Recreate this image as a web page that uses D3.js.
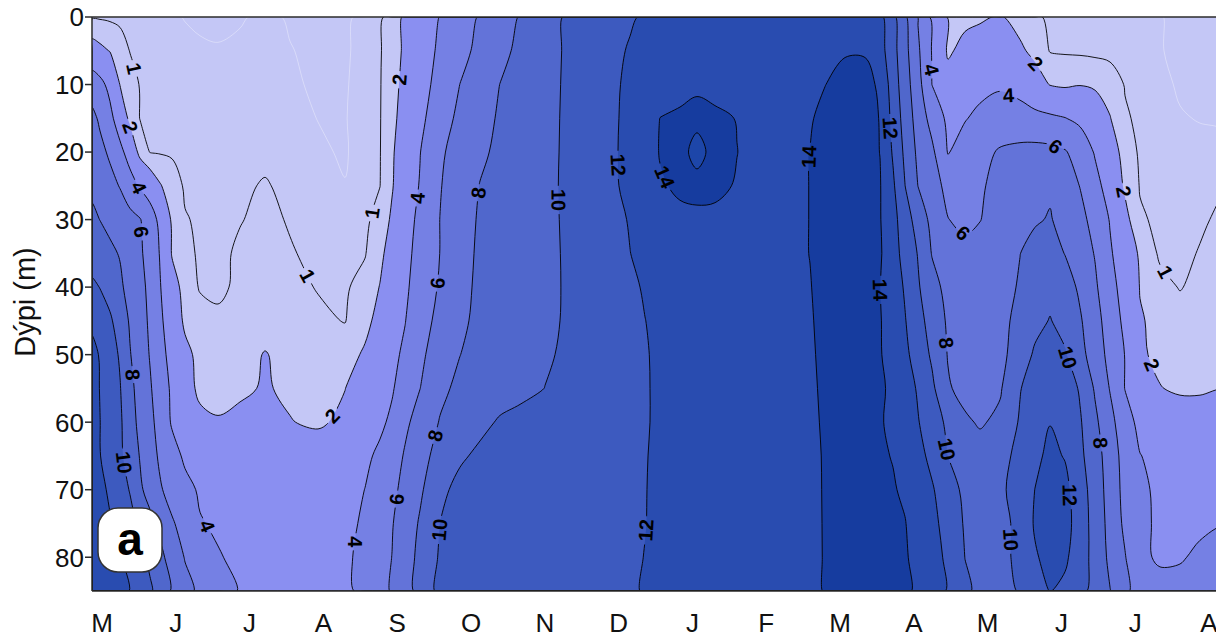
<!DOCTYPE html>
<html>
<head>
<meta charset="utf-8">
<script src="https://cdn.jsdelivr.net/npm/d3@7.9.0/dist/d3.min.js"></script>
<style>
  body { margin: 0; background: #fff; }
  svg { display: block; font-family: "Liberation Sans", Arial, sans-serif; }
</style>
</head>
<body>
<svg id="chart" width="1216" height="637"></svg>
<script>
// Month labels along the bottom (May through August of the next year)
const monthLabels = ['M','J','J','A','S','O','N','D','J','F','M','A','M','J','J','A'];
const depthTicks = [0, 10, 20, 30, 40, 50, 60, 70, 80];

// Grid columns, in months counted from the start of May
const times = [-0.136,-0.027,0.108,0.244,0.379,0.515,0.650,0.786,0.949,1.125,1.328,1.572,1.870,
  2.209,2.547,2.927,3.293,3.564,3.767,3.930,4.106,4.309,4.580,4.851,5.122,5.393,
  5.664,6.003,6.341,6.748,7.154,7.358,7.561,7.832,8.062,8.306,8.604,8.916,9.322,
  9.593,9.797,10.068,10.339,10.542,10.718,10.881,11.057,11.247,11.463,11.694,11.897,12.168,
  12.439,12.642,12.846,13.049,13.252,13.455,13.659,13.862,14.065,14.336,14.607,14.878,15.176];

// Grid rows, depth in metres
const depths = [0,5,10,15,20,25,30,35,40,45,50,55,60,65,70,75,80,85];

// Values, one row per depth
const nitrate = [
 [0.9,0.9,0.85,0.8,0.75,0.7,0.65,0.6,0.55,0.48,0.4,0.35,0.45,
  0.6,0.45,0.35,0.4,0.65,0.85,1.4,2.2,2.9,4.05,5.1,6.15,7.1,
  8.1,9.3,10.3,11.0,11.8,12.2,12.5,12.8,13.0,13.0,13.0,13.0,13.2,
  13.4,13.6,13.8,13.8,12.5,10.5,8.3,5.9,3.6,1.9,1.7,1.85,2.1,
  1.6,1.1,0.9,0.85,0.8,0.75,0.7,0.65,0.6,0.52,0.4,0.35,0.3],
 [2.6,2.3,1.95,1.45,0.97,0.85,0.78,0.72,0.68,0.62,0.58,0.55,0.6,
  0.7,0.52,0.4,0.42,0.7,0.93,1.5,2.2,3.1,4.3,5.4,6.5,7.5,
  8.4,9.4,10.3,11.2,12.15,12.5,12.8,13.0,13.1,13.1,13.0,13.1,13.3,
  13.5,13.7,13.9,13.9,12.8,10.7,8.6,6.3,3.9,1.8,2.4,2.6,2.5,
  2.2,1.7,0.95,0.9,0.85,0.8,0.75,0.68,0.62,0.52,0.42,0.38,0.35],
 [5.0,4.5,3.5,1.97,1.4,0.95,0.85,0.8,0.75,0.7,0.65,0.62,0.65,
  0.7,0.58,0.42,0.45,0.72,0.95,1.6,2.35,3.3,4.6,6.02,7.0,8.02,
  8.7,9.5,10.3,11.35,12.3,12.7,13.0,13.4,13.75,13.5,13.2,13.2,13.5,
  13.8,13.98,14.4,14.4,13.8,11.0,8.9,6.7,3.98,2.6,3.2,3.5,3.8,
  3.4,2.6,1.95,1.8,1.95,1.8,1.5,0.95,0.8,0.6,0.45,0.4,0.38],
 [6.5,5.7,4.5,3.0,1.7,0.97,0.9,0.85,0.8,0.78,0.72,0.7,0.72,
  0.75,0.65,0.49,0.47,0.75,0.96,1.65,2.6,3.6,5.0,6.5,7.4,8.2,
  8.8,9.5,10.35,11.4,12.35,12.9,14.02,14.3,14.45,14.3,13.95,13.4,13.6,
  13.9,14.3,14.5,14.5,13.95,11.4,9.2,7.2,5.3,3.6,3.9,4.4,4.8,
  4.7,4.5,4.3,4.05,3.6,3.0,2.05,1.1,0.85,0.62,0.53,0.48,0.45],
 [7.0,6.5,5.7,4.5,3.2,1.6,0.97,0.93,0.9,0.85,0.8,0.78,0.8,
  0.85,0.72,0.58,0.44,0.78,0.97,1.8,3.0,3.95,5.7,6.8,7.7,8.35,
  8.9,9.55,10.35,11.4,12.4,13.0,14.1,14.4,14.8,14.4,14.02,13.5,13.7,
  14.02,14.4,14.5,14.5,13.98,11.8,9.6,7.6,6.4,3.9,4.8,5.4,6.2,
  6.5,6.6,6.5,6.15,5.2,3.85,2.6,1.6,0.85,0.7,0.65,0.62,0.6],
 [7.7,7.2,6.6,5.9,4.8,3.8,3.0,2.1,1.4,0.9,0.85,0.82,0.9,
  1.05,0.85,0.7,0.52,0.8,0.99,1.9,3.0,4.1,5.9,7.0,8.05,8.6,
  9.0,9.6,10.35,11.4,12.35,12.9,13.8,14.3,14.4,14.3,13.9,13.5,13.7,
  14.02,14.45,14.55,14.55,14.1,12.3,10.02,7.98,6.9,5.4,5.2,5.8,6.5,
  7.2,7.6,7.8,7.0,5.95,4.6,3.2,1.8,0.95,0.85,0.75,0.72,0.92],
 [8.3,7.98,7.6,7.1,6.6,6.1,5.0,3.5,1.8,1.05,0.9,0.85,0.97,
  1.15,0.95,0.8,0.7,0.85,1.3,2.2,3.3,4.4,6.02,7.2,8.2,8.7,
  9.1,9.6,10.3,11.2,12.1,12.6,13.2,13.6,13.7,13.7,13.5,13.4,13.7,
  14.02,14.5,14.55,14.55,14.1,12.6,11.0,9.1,7.5,6.05,5.5,5.95,6.8,
  7.5,7.85,8.1,7.5,6.6,5.3,3.9,2.4,1.1,0.85,0.75,0.88,1.15],
 [9.0,8.7,8.3,7.9,7.1,6.3,5.2,3.9,1.9,1.2,0.9,0.85,1.1,
  1.3,1.05,0.85,0.8,0.95,1.7,2.6,3.5,4.6,6.02,7.3,8.3,8.8,
  9.2,9.6,10.25,11.0,11.98,12.4,12.8,13.1,13.2,13.2,13.2,13.3,13.7,
  14.02,14.5,14.55,14.5,14.2,12.8,11.3,9.9,7.9,7.0,6.6,6.7,7.2,
  7.98,8.5,8.7,7.95,7.0,5.9,4.2,3.0,1.8,0.85,0.8,1.05,1.3],
 [10.4,9.95,9.2,8.3,7.4,6.5,5.6,4.1,2.6,1.55,0.92,0.85,1.15,
  1.4,1.2,0.96,0.9,1.3,2.05,3.0,3.7,4.8,6.2,7.4,8.4,8.9,
  9.25,9.65,10.2,10.9,11.7,12.15,12.5,12.8,12.95,13.0,13.1,13.2,13.6,
  13.95,14.4,14.5,14.4,14.02,13.0,11.8,10.2,8.7,7.4,7.0,7.0,7.4,
  8.15,8.8,9.4,8.8,7.7,6.3,4.6,3.3,1.95,1.3,0.95,1.25,1.45],
 [11.7,11.0,10.3,9.1,7.8,6.8,5.7,4.4,2.8,1.8,1.4,1.15,1.35,
  1.6,1.4,1.15,0.97,1.6,2.5,3.2,3.95,5.1,6.6,7.6,8.5,8.95,
  9.3,9.7,10.2,10.8,11.5,11.98,12.35,12.6,12.8,12.9,13.0,13.1,13.5,
  13.9,14.3,14.45,14.4,14.1,13.2,12.1,10.7,9.2,7.75,7.2,7.1,7.5,
  8.5,9.4,10.1,9.3,8.2,6.8,5.0,3.6,2.1,1.7,1.4,1.5,1.6],
 [12.4,11.9,10.8,9.8,8.1,7.0,5.9,4.7,3.3,2.3,1.7,1.5,1.65,
  2.05,1.7,1.5,1.45,2.2,3.0,3.6,4.3,5.6,7.0,7.98,8.6,9.0,
  9.35,9.8,10.3,10.8,11.45,11.9,12.25,12.5,12.7,12.8,12.9,13.1,13.5,
  13.85,14.25,14.45,14.35,14.1,13.4,12.4,11.2,9.7,7.9,7.2,7.0,7.5,
  8.9,10.3,10.9,10.2,8.6,7.1,5.4,3.95,2.2,1.7,1.6,1.65,1.7],
 [12.6,11.95,11.0,10.1,8.5,7.3,6.2,5.0,3.7,2.5,1.75,1.6,1.8,
  2.1,1.8,1.65,1.98,2.8,3.4,3.85,4.8,5.98,7.6,8.4,8.9,9.2,
  9.55,10.02,10.4,10.8,11.4,11.9,12.2,12.45,12.65,12.75,12.85,13.0,13.4,
  13.8,14.2,14.4,14.35,14.3,13.6,12.9,11.8,10.4,8.2,7.4,7.2,7.8,
  9.9,11.0,11.6,11.1,9.8,7.8,5.9,3.95,3.0,2.05,1.8,1.8,1.95],
 [12.7,12.02,11.1,10.3,8.8,7.5,6.5,5.3,3.8,2.9,2.3,2.1,2.3,
  2.4,2.05,1.8,2.3,3.1,3.7,4.3,5.6,6.8,8.1,8.9,9.5,10.2,
  10.5,10.8,11.0,11.2,11.5,11.9,12.2,12.4,12.6,12.7,12.8,12.95,13.35,
  13.75,14.15,14.35,14.3,14.2,13.5,13.0,12.1,11.0,9.6,8.3,7.8,8.4,
  10.2,11.3,11.95,11.6,10.2,8.4,6.6,4.8,3.5,3.0,2.8,2.8,2.9],
 [12.8,12.05,11.2,10.35,9.2,7.9,6.8,5.7,4.7,3.7,3.2,3.0,2.9,
  2.8,2.7,2.8,3.1,3.7,4.3,5.0,6.2,7.4,8.6,9.7,10.4,10.7,
  10.9,11.1,11.2,11.35,11.6,11.95,12.2,12.4,12.55,12.65,12.75,12.9,13.3,
  13.7,14.1,14.3,14.25,14.15,13.95,13.3,12.6,11.5,9.98,9.0,8.8,9.3,
  10.6,11.6,12.4,11.9,10.4,8.9,7.0,5.3,4.05,3.5,3.3,3.2,3.3],
 [13.2,12.5,11.7,10.8,9.9,8.3,7.3,6.2,5.3,4.5,3.8,3.5,3.3,
  3.15,3.1,3.15,3.4,4.02,4.9,5.6,6.5,7.7,9.5,10.6,10.9,11.0,
  11.1,11.25,11.35,11.5,11.7,11.97,12.2,12.4,12.5,12.6,12.7,12.85,13.25,
  13.65,14.1,14.3,14.3,14.2,14.1,13.8,13.1,12.2,10.8,9.6,9.3,9.6,
  10.9,12.02,12.7,12.5,10.9,9.1,7.2,5.4,4.3,3.7,3.5,3.5,3.6],
 [13.5,12.9,12.15,11.35,10.6,9.6,8.5,7.5,6.2,5.3,4.1,3.8,3.55,
  3.4,3.35,3.4,3.65,4.2,5.2,5.9,6.9,8.2,10.02,10.9,11.1,11.2,
  11.3,11.4,11.5,11.6,11.8,11.98,12.2,12.35,12.45,12.55,12.65,12.8,13.2,
  13.6,14.1,14.3,14.3,14.25,14.15,14.05,13.4,12.5,11.3,9.8,9.4,9.3,
  10.6,12.2,12.9,12.7,11.1,9.2,7.4,5.6,4.4,3.7,3.7,3.8,3.95],
 [13.7,13.2,12.6,12.1,11.3,10.5,9.6,8.5,7.2,5.9,5.0,4.1,3.7,
  3.5,3.45,3.5,3.75,4.4,5.4,6.02,7.1,8.5,10.2,11.0,11.2,11.3,
  11.4,11.5,11.55,11.65,11.85,12.02,12.2,12.35,12.4,12.5,12.6,12.75,13.15,
  13.55,14.1,14.3,14.3,14.25,14.2,14.1,13.7,12.8,11.6,9.98,9.5,9.4,
  10.5,11.8,12.6,12.3,11.0,9.3,7.6,6.1,4.3,3.8,3.9,4.2,4.4],
 [13.9,13.5,13.0,12.6,11.95,11.1,10.3,9.1,7.8,6.6,5.6,4.7,3.9,
  3.6,3.5,3.55,3.8,4.25,5.4,6.15,7.2,8.6,10.5,11.1,11.3,11.4,
  11.5,11.55,11.6,11.7,11.9,12.05,12.2,12.3,12.4,12.5,12.55,12.7,13.1,
  13.5,14.1,14.3,14.3,14.25,14.2,14.15,13.85,13.1,11.8,10.3,9.6,9.5,
  10.1,11.2,12.05,11.6,10.6,9.3,8.05,6.4,5.1,4.5,4.4,4.5,4.6]
];

// Filled bands: below 2 is the background colour
const baseColor = '#c4c7f6';
const fillLevels = [2, 4, 6, 8, 10, 12, 14, 14.6];
const fillColors = ['#8a8ff1', '#7580e4', '#6373d9', '#5067cc', '#3d5abf', '#294cb0', '#163c9f', '#1d46a9'];
// Drawn contour lines
const lineLevels = [1, 2, 4, 6, 8, 10, 12, 14, 14.6];
const faintLevels = [0.5];

// Where the inline contour labels sit: [level, month, depth]
const labelSpots = [
  [1, 0.38, 7.8], [2, 0.35, 16.4], [4, 0.49, 25.3], [6, 0.58, 31.8], [8, 0.38, 53.0],
  [10, 0.33, 65.9], [4, 1.40, 75.5], [1, 2.75, 38.5], [2, 3.18, 59.4], [1, 3.74, 29.3],
  [2, 4.04, 9.3], [4, 4.27, 26.8], [6, 4.54, 39.4], [8, 5.18, 26.1], [8, 4.63, 62.3],
  [6, 4.07, 71.5], [4, 3.54, 77.9], [10, 4.65, 76.0], [10, 6.21, 27.1], [12, 6.98, 21.9],
  [14, 7.52, 24.1], [12, 7.36, 76.0], [14, 9.59, 20.7], [14, 10.54, 40.4], [12, 10.77, 16.4],
  [4, 11.25, 7.8], [6, 11.63, 32.4], [8, 11.38, 48.3], [10, 11.38, 64.1], [10, 12.30, 77.4],
  [12, 13.12, 70.8], [10, 13.12, 50.3], [8, 13.52, 63.1], [2, 12.62, 7.1], [4, 12.28, 11.6],
  [6, 12.95, 18.2], [2, 13.83, 25.9], [1, 14.40, 37.8], [2, 14.16, 51.8]
];

const W = 1216, H = 637;
const pL = 92, pR = 1216, pT = 17, pB = 591;

const x = d3.scaleLinear().domain([0, 15]).range([102, 1209]);
const y = d3.scaleLinear().domain([0, 85]).range([pT, pB]);

const svg = d3.select('#chart');
const defs = svg.append('defs');
defs.append('clipPath').attr('id', 'plot')
  .append('rect').attr('x', pL).attr('y', pT).attr('width', pR - pL).attr('height', pB - pT);

// grid coordinate (value i sits at i + 0.5) -> axis value
function along(arr, u) {
  const k = u - 0.5;
  if (k <= 0) return arr[0];
  if (k >= arr.length - 1) return arr[arr.length - 1];
  const i = Math.floor(k);
  return arr[i] + (arr[i + 1] - arr[i]) * (k - i);
}

const nx = times.length, ny = depths.length;
const values = nitrate.flat();
const contours = d3.contours().size([nx, ny]);

// contour rings in screen pixels
function screenRings(level) {
  const rings = [];
  contours.contour(values, level).coordinates.forEach(poly => poly.forEach(ring => {
    rings.push(ring.map(([u, v]) => [x(along(times, u)), y(along(depths, v))]));
  }));
  return rings;
}
// smooth closed curve through each ring
const ringLine = d3.line().curve(d3.curveCatmullRomClosed.alpha(0.5));
function smoothPath(level) {
  return screenRings(level).map(r => ringLine(r.slice(0, -1))).join('');
}

const plot = svg.append('g').attr('clip-path', 'url(#plot)');

// filled bands
plot.append('rect')
  .attr('x', pL).attr('y', pT).attr('width', pR - pL).attr('height', pB - pT)
  .attr('fill', baseColor);
fillLevels.forEach((lv, i) => {
  plot.append('path')
    .attr('d', smoothPath(lv))
    .attr('fill', fillColors[i])
    .attr('fill-rule', 'evenodd');
});

// contour lines, with gaps cut out where the labels go
const mask = defs.append('mask').attr('id', 'gaps')
  .attr('maskUnits', 'userSpaceOnUse').attr('x', 0).attr('y', 0).attr('width', W).attr('height', H);
mask.append('rect').attr('width', W).attr('height', H).attr('fill', '#fff');

const lines = plot.append('g').attr('mask', 'url(#gaps)');
faintLevels.forEach(lv => {
  lines.append('path')
    .attr('d', smoothPath(lv))
    .attr('fill', 'none')
    .attr('stroke', 'rgba(255,255,255,0.45)')
    .attr('stroke-width', 0.8);
});
lineLevels.forEach(lv => {
  lines.append('path')
    .attr('d', smoothPath(lv))
    .attr('fill', 'none')
    .attr('stroke', '#000')
    .attr('stroke-width', 0.9);
});

// contour labels
const onFrame = p => p[0] <= pL + 0.5 || p[0] >= pR - 0.5 || p[1] <= pT + 0.5 || p[1] >= pB - 0.5;

const labels = plot.append('g')
  .attr('font-size', 20).attr('font-weight', 'bold').attr('fill', '#000');

labelSpots.forEach(([level, t, d]) => {
  const ax = x(t), ay = y(d);
  let best = null;
  screenRings(level).forEach(ring => {
    for (let k = 0; k < ring.length - 1; k++) {
      const p = ring[k], q = ring[k + 1];
      if (onFrame(p) && onFrame(q)) continue;
      const dx = q[0] - p[0], dy = q[1] - p[1];
      const len2 = dx * dx + dy * dy || 1e-9;
      const s = Math.max(0, Math.min(1, ((ax - p[0]) * dx + (ay - p[1]) * dy) / len2));
      const cx = p[0] + s * dx, cy = p[1] + s * dy;
      const dist = Math.hypot(ax - cx, ay - cy);
      if (!best || dist < best.dist) best = { dist, cx, cy, ring, k };
    }
  });
  if (!best) return;
  const r = best.ring;
  const a = r[Math.max(0, best.k - 2)], b = r[Math.min(r.length - 1, best.k + 3)];
  let ang = Math.atan2(b[1] - a[1], b[0] - a[0]) * 180 / Math.PI;
  if (ang > 90) ang -= 180;
  if (ang <= -90) ang += 180;
  const tf = `translate(${best.cx},${best.cy}) rotate(${ang})`;
  const txt = labels.append('text')
    .attr('transform', tf)
    .attr('text-anchor', 'middle')
    .attr('dy', '0.36em')
    .text(level);
  const w = txt.node().getComputedTextLength();
  mask.append('rect')
    .attr('transform', tf)
    .attr('x', -w / 2 - 3).attr('y', -8).attr('width', w + 6).attr('height', 16)
    .attr('fill', '#000');
});

// frame and axes
const frame = svg.append('g').attr('stroke', '#2b2b2b').attr('stroke-width', 1.5);
frame.append('line').attr('x1', pL).attr('x2', pR).attr('y1', pT).attr('y2', pT);
frame.append('line').attr('x1', pL).attr('x2', pR).attr('y1', pB).attr('y2', pB);
frame.append('line').attr('x1', pL).attr('x2', pL).attr('y1', pT).attr('y2', pB);

const yAxis = svg.append('g');
depthTicks.forEach(d => {
  yAxis.append('line')
    .attr('x1', pL - 7).attr('x2', pL).attr('y1', y(d)).attr('y2', y(d))
    .attr('stroke', '#2b2b2b').attr('stroke-width', 1.5);
  yAxis.append('text')
    .attr('x', pL - 8).attr('y', y(d)).attr('dy', '0.36em')
    .attr('text-anchor', 'end').attr('font-size', 26).attr('fill', '#111')
    .text(d);
});

svg.append('text')
  .attr('transform', 'translate(35,302) rotate(-90)')
  .attr('text-anchor', 'middle').attr('font-size', 29).attr('fill', '#111')
  .text('Dýpi (m)');

svg.append('g').selectAll('text')
  .data(monthLabels)
  .join('text')
  .attr('x', (m, i) => x(i)).attr('y', 632)
  .attr('text-anchor', 'middle').attr('font-size', 26).attr('fill', '#111')
  .text(m => m);

// panel letter
svg.append('rect')
  .attr('x', 98).attr('y', 508).attr('width', 64).attr('height', 64).attr('rx', 20)
  .attr('fill', '#fff').attr('stroke', '#333').attr('stroke-width', 1.5);
svg.append('text')
  .attr('x', 130).attr('y', 555)
  .attr('text-anchor', 'middle').attr('font-size', 46).attr('font-weight', 'bold')
  .text('a');
</script>
</body>
</html>
